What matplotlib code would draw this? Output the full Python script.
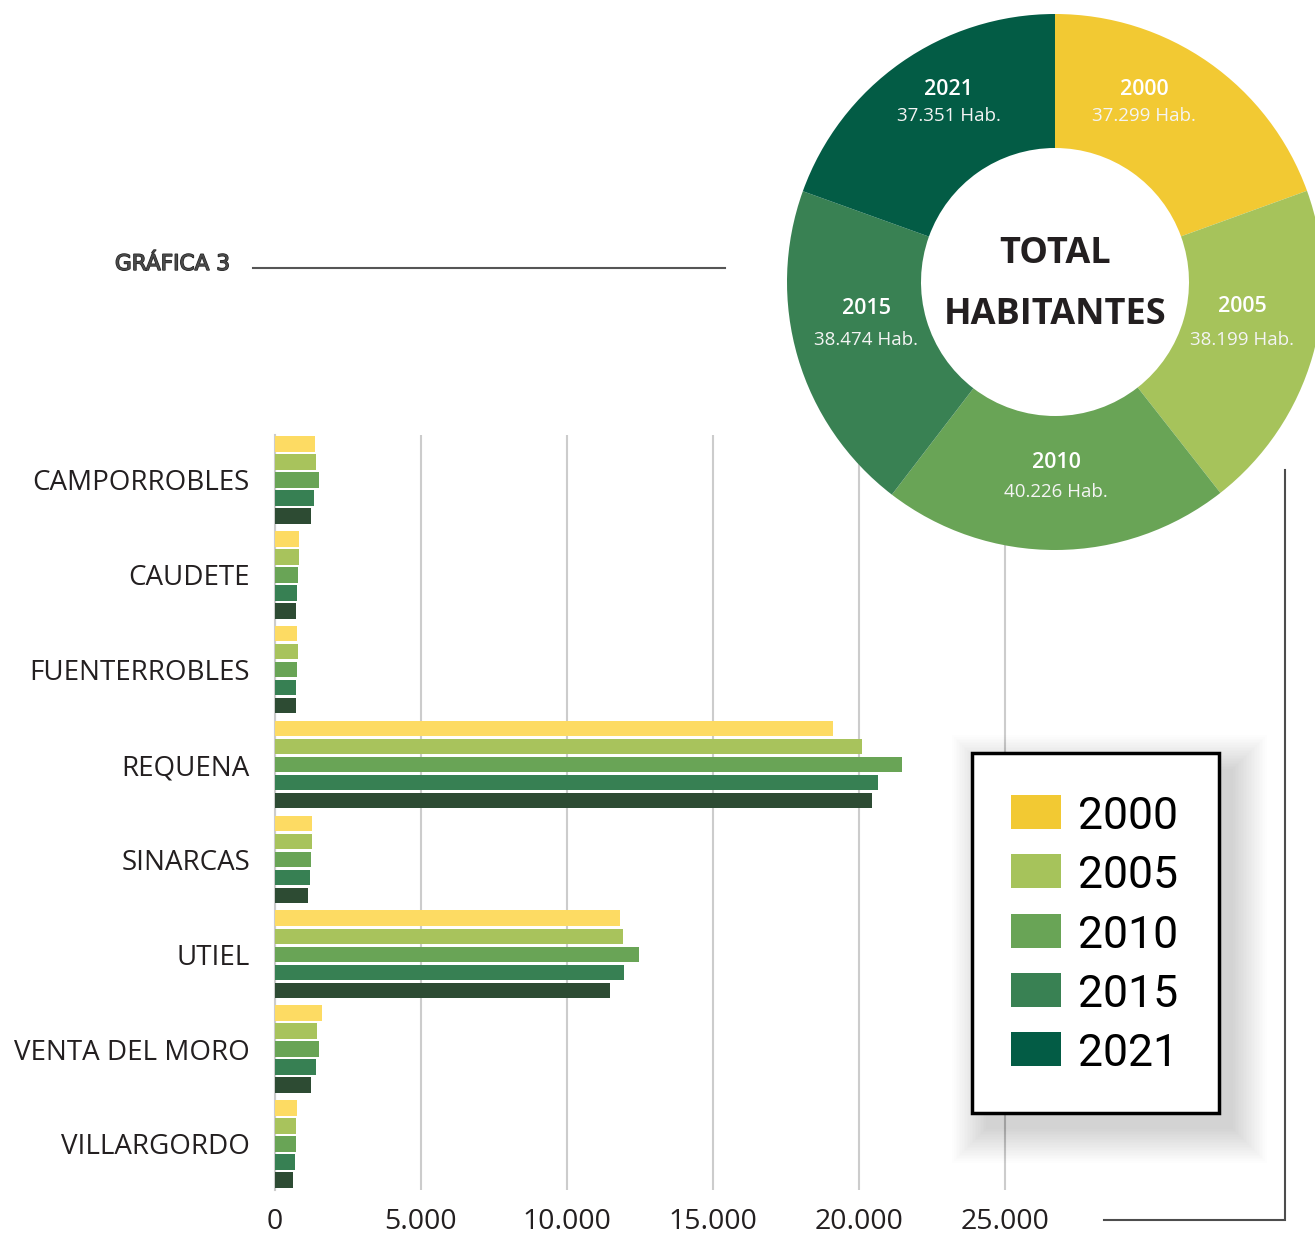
import matplotlib
matplotlib.use("Agg")
import matplotlib.pyplot as plt
from matplotlib.patches import Rectangle
from matplotlib import patheffects as pe

# ---------------- data ----------------
towns = ['CAMPORROBLES', 'CAUDETE', 'FUENTERROBLES', 'REQUENA',
         'SINARCAS', 'UTIEL', 'VENTA DEL MORO', 'VILLARGORDO']
years = ['2000', '2005', '2010', '2015', '2021']
pop_2000 = [1370, 833, 753, 19120, 1267, 11815, 1598, 742]
pop_2005 = [1390, 811, 776, 20090, 1256, 11930, 1438, 719]
pop_2010 = [1517, 788, 765, 21486, 1233, 12455, 1507, 708]
pop_2015 = [1347, 742, 719, 20664, 1188, 11952, 1404, 674]
pop_2021 = [1222, 730, 707, 20458, 1130, 11485, 1222, 605]
series = [pop_2000, pop_2005, pop_2010, pop_2015, pop_2021]

total_hab = [37299, 38199, 40226, 38474, 37351]
total_labels = ['37.299 Hab.', '38.199 Hab.', '40.226 Hab.', '38.474 Hab.', '37.351 Hab.']

xticks = [0, 5000, 10000, 15000, 20000, 25000]
xtick_labels = ['0', '5.000', '10.000', '15.000', '20.000', '25.000']

bar_colors = ['#FDDB63', '#A8C35C', '#69A456', '#378053', '#2D4B33']
pie_colors = ['#F2C933', '#A6C35B', '#69A456', '#398153', '#035C45']

# ---------------- figure ----------------
W, H = 1315, 1234
fig = plt.figure(figsize=(W / 100, H / 100), dpi=100)
fig.patch.set_facecolor('white')

FONT = 'Open Sans'

# ---------------- bar chart ----------------
ax = fig.add_axes([275 / W, 1 - 1190 / H, 759.2 / W, 755 / H])
slot = 0.19
bh = 0.163
for i, (vals, col) in enumerate(zip(series, bar_colors)):
    pos = [k + (i - 2) * slot for k in range(len(towns))]
    ax.barh(pos, vals, height=bh, color=col, edgecolor='none', zorder=3)

ax.set_xlim(0, 26000)
ax.set_ylim(7.485, -0.474)
ax.set_xticks(xticks)
ax.set_xticklabels(xtick_labels, fontsize=20.5, family=FONT, color='#231f20')
ax.set_yticks(range(len(towns)))
ax.set_yticklabels(towns, fontsize=20, family=FONT, color='#231f20')
ax.tick_params(axis='x', length=0, pad=13)
ax.tick_params(axis='y', length=0, pad=18)
ax.grid(axis='x', color='#cccccc', linewidth=1.5, zorder=0)
ax.grid(axis='y', visible=False)
ax.set_axisbelow(True)
for s in ['top', 'right', 'bottom']:
    ax.spines[s].set_visible(False)
ax.spines['left'].set_color('#cccccc')
ax.spines['left'].set_linewidth(1.5)
ax.set_facecolor('none')

# ---------------- overlay (decorations, legend) ----------------
ov = fig.add_axes([0, 0, 1, 1], zorder=5)
ov.set_xlim(0, W)
ov.set_ylim(H, 0)
ov.axis('off')

# title, sized to fit its slot
title = ov.text(115, 270, 'GRÁFICA 3', color='#4a4a4a', ha='left', va='baseline',
                fontsize=20, family='DejaVu Sans',
                path_effects=[pe.withStroke(linewidth=1.0, foreground='#222222')])
renderer = fig.canvas.get_renderer()
tw = title.get_window_extent(renderer=renderer).width
title.set_fontsize(20 * 115 / tw)
ov.plot([253, 725], [268, 268], color='#555555', linewidth=1.5)

# connector line
ov.plot([1285, 1285, 1104], [470, 1220, 1220], color='#4d4d4d', linewidth=1.5,
        solid_joinstyle='miter')

# legend shadow (soft, towards bottom-right)
lx0, ly0, lw_, lh_ = 972, 753, 247, 360
n = 22
for k in range(n):
    g = 1.6 * k
    ov.add_patch(Rectangle((lx0 + 14 - g, ly0 + 16 - g), lw_ + 2 * g, lh_ + 2 * g,
                           facecolor='black', edgecolor='none', alpha=0.0075, zorder=1))
ov.add_patch(Rectangle((lx0, ly0), lw_, lh_, facecolor='white', edgecolor='black',
                       linewidth=2.5, zorder=2))
for i, (yr, col) in enumerate(zip(years, pie_colors)):
    top = 795 + i * 59.3
    ov.add_patch(Rectangle((1011, top), 50, 34, facecolor=col, edgecolor='none', zorder=3))
    ov.text(1078, top + 34, yr, fontsize=32, family='Roboto', color='black',
            ha='left', va='baseline', zorder=4)

# ---------------- donut ----------------
R = 268
cx, cy = 1055, 282
axp = fig.add_axes([(cx - R) / W, 1 - (cy + R) / H, 2 * R / W, 2 * R / H], zorder=4)
axp.pie(total_hab, colors=pie_colors, startangle=90, counterclock=False, radius=1,
        wedgeprops=dict(width=0.5, edgecolor='none'))
axp.set_xlim(-1, 1)
axp.set_ylim(-1, 1)
axp.set_aspect('equal')
axp.axis('off')

label_pos = [(0.332, 0.718, 0.620), (0.698, -0.092, -0.216), (0.004, -0.674, -0.784),
             (-0.705, -0.100, -0.216), (-0.396, 0.718, 0.620)]
for (x, yy, yh), yr, hab in zip(label_pos, years, total_labels):
    axp.text(x, yy, yr, fontsize=15.5, family=FONT, weight='semibold', color='white',
             ha='center', va='center')
    axp.text(x, yh, hab, fontsize=13.5, family=FONT, color='#f4f4f4',
             ha='center', va='center')

axp.text(0, 0.104, 'TOTAL', fontsize=26, family=FONT, weight='bold', color='#231f20',
         ha='center', va='center')
axp.text(0, -0.123, 'HABITANTES', fontsize=26, family=FONT, weight='bold', color='#231f20',
         ha='center', va='center')

fig.savefig('out.png', dpi=100, facecolor='white')
